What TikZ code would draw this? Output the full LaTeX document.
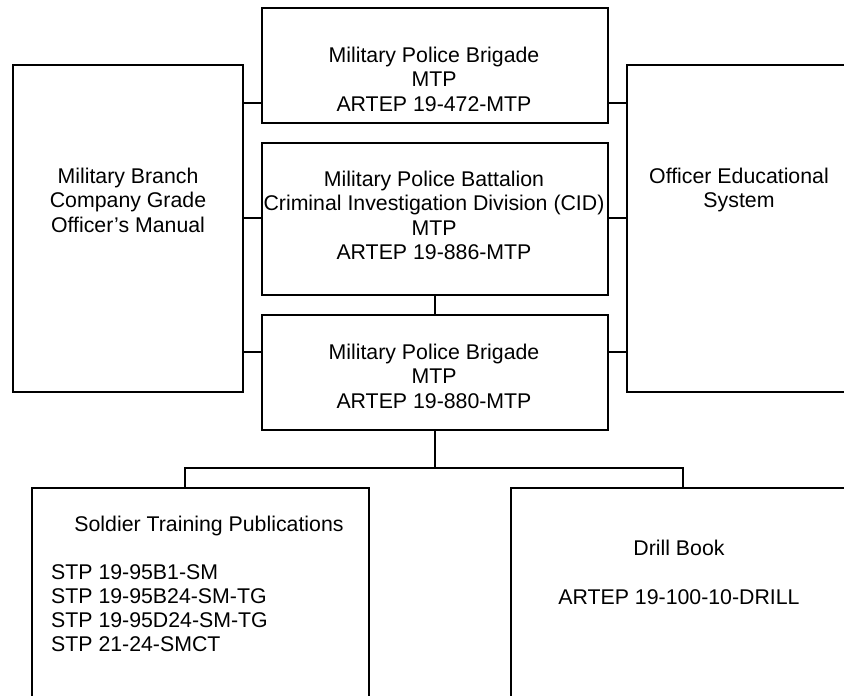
\documentclass[tikz,border=0pt]{standalone}
\usepackage{fontspec}
\setmainfont{Liberation Sans}
\begin{document}
\begin{tikzpicture}[x=1pt,y=-1pt,
  box/.style={draw=black, line width=1.6pt, fill=white, rectangle, inner sep=0pt, anchor=north west},
  conn/.style={draw=black, line width=1.4pt},
  txt/.style={font=\fontsize{21.3}{24.3}\selectfont, align=center, inner sep=0pt, anchor=north},
  txtl/.style={font=\fontsize{21.3}{24.3}\selectfont, align=left, inner sep=0pt, anchor=north west}]
\clip (0,0) rectangle (844,696);
\fill[white] (0,0) rectangle (844,696);
% boxes
\node[box, minimum width=346pt, minimum height=115pt] (top) at (261,7) {};
\node[box, minimum width=346pt, minimum height=152pt] (mid) at (261,142) {};
\node[box, minimum width=346pt, minimum height=115pt] (bot) at (261,314) {};
\node[box, minimum width=230pt, minimum height=327pt] (left) at (12,64) {};
\node[box, minimum width=226pt, minimum height=327pt] (right) at (626,64) {};
\node[box, minimum width=337pt, minimum height=240pt] (bl) at (31,487) {};
\node[box, minimum width=338pt, minimum height=240pt] (br) at (510,487) {};
% texts
\node[txt] (ttop) at (434,47) {Military Police Brigade\\MTP\\ARTEP 19-472-MTP};
\node[txt] (tmid) at (434,171) {Military Police Battalion\\Criminal Investigation Division (CID)\\MTP\\ARTEP 19-886-MTP};
\node[txt] (tbot) at (434,344) {Military Police Brigade\\MTP\\ARTEP 19-880-MTP};
\node[txt] (tleft) at (128,168) {Military Branch\\Company Grade\\Officer’s Manual};
\node[txt] (tright) at (739,168) {Officer Educational\\System};
\node[txt] (tbl) at (209,516) {Soldier Training Publications};
\node[txtl] (tbll) at (51,564) {STP 19-95B1-SM\\STP 19-95B24-SM-TG\\STP 19-95D24-SM-TG\\STP 21-24-SMCT};
\node[txt] (tbr) at (679,540) {Drill Book\\[24.3pt]ARTEP 19-100-10-DRILL};
% junction coordinates
\coordinate (yA) at (0,103);
\coordinate (yB) at (0,218);
\coordinate (yC) at (0,352);
\coordinate (blj) at (185,468);
\coordinate (brj) at (683,468);
% connectors
\draw[conn] (yA -| left.east) -- (yA -| top.west);
\draw[conn] (yA -| top.east) -- (yA -| right.west);
\draw[conn] (yB -| left.east) -- (yB -| mid.west);
\draw[conn] (yB -| mid.east) -- (yB -| right.west);
\draw[conn] (yC -| left.east) -- (yC -| bot.west);
\draw[conn] (yC -| bot.east) -- (yC -| right.west);
\draw[conn] (mid.south) -- (bot.north);
\draw[conn] (bot.south) -- (bot.south |- blj);
\draw[conn] (blj |- bl.north) -- (blj) -- (brj) -- (brj |- br.north);
\end{tikzpicture}
\end{document}
